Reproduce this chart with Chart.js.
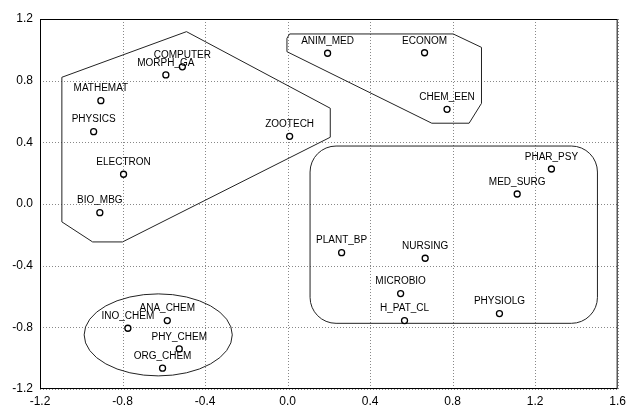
<!DOCTYPE html>
<html>
<head>
<meta charset="utf-8">
<script src="https://cdn.jsdelivr.net/npm/chart.js@4.4.0/dist/chart.umd.min.js"></script>
<style>
  body { margin: 0; background: #fff; }
  canvas { display: block; }
</style>
</head>
<body>
<canvas id="map-chart" width="631" height="410"></canvas>
<script>
// Point labels and coordinates
const pointLabels = ['COMPUTER', 'MORPH_GA', 'MATHEMAT', 'PHYSICS', 'ELECTRON', 'BIO_MBG', 'ZOOTECH',
    'ANIM_MED', 'ECONOM', 'CHEM_EEN',
    'PHAR_PSY', 'MED_SURG', 'PLANT_BP', 'NURSING', 'MICROBIO', 'H_PAT_CL', 'PHYSIOLG',
    'INO_CHEM', 'ANA_CHEM', 'PHY_CHEM', 'ORG_CHEM'];
const xValues = [-0.51, -0.59, -0.905, -0.94, -0.795, -0.91, 0.01,
    0.194, 0.664, 0.773,
    1.279, 1.113, 0.262, 0.667, 0.548, 0.567, 1.027,
    -0.774, -0.583, -0.525, -0.606];
const yValues = [0.89, 0.837, 0.67, 0.469, 0.193, -0.056, 0.439,
    0.978, 0.981, 0.614,
    0.227, 0.065, -0.316, -0.352, -0.581, -0.756, -0.711,
    -0.806, -0.756, -0.94, -1.065];

// Axis ticks
const tickStep = 0.4;

// Cluster outlines, in data units
const hullA = [[-1.094, 0.822], [-0.49, 1.118], [0.207, 0.621], [0.207, 0.433],
    [-0.80, -0.246], [-0.945, -0.246], [-1.094, -0.116]];
const hullB = [[0.010, 1.103], [0.803, 1.103], [0.940, 1.016], [0.940, 0.653],
    [0.880, 0.524], [0.699, 0.524], [-0.003, 0.988], [-0.003, 1.075]];
const boxC = [0.109, 0.376, 1.502, -0.774];       // left, top, right, bottom
const ellipseD = [-0.627, -0.849, 0.359, 0.266];  // cx, cy, rx, ry

const points = xValues.map((x, i) => ({ x: x, y: yValues[i] }));

const outlines = {
    id: 'outlines',
    beforeDatasetsDraw(chart) {
        const { ctx, chartArea, scales: { x, y } } = chart;
        ctx.save();
        // dotted grid at the scale ticks
        ctx.strokeStyle = '#888';
        ctx.lineWidth = 1;
        ctx.setLineDash([1, 2]);
        x.ticks.forEach(t => {
            const px = Math.round(x.getPixelForValue(t.value)) + 0.5;
            ctx.beginPath();
            ctx.moveTo(px, chartArea.top);
            ctx.lineTo(px, chartArea.bottom);
            ctx.stroke();
        });
        y.ticks.forEach(t => {
            const py = Math.round(y.getPixelForValue(t.value)) + 0.5;
            ctx.beginPath();
            ctx.moveTo(chartArea.left, py);
            ctx.lineTo(chartArea.right, py);
            ctx.stroke();
        });
        ctx.setLineDash([]);
        // cluster outlines
        ctx.strokeStyle = '#222';
        [hullA, hullB].forEach(hull => {
            ctx.beginPath();
            hull.forEach((p, i) => {
                const px = x.getPixelForValue(p[0]), py = y.getPixelForValue(p[1]);
                if (i === 0) ctx.moveTo(px, py); else ctx.lineTo(px, py);
            });
            ctx.closePath();
            ctx.stroke();
        });
        const l = x.getPixelForValue(boxC[0]), t = y.getPixelForValue(boxC[1]);
        const r = x.getPixelForValue(boxC[2]), b = y.getPixelForValue(boxC[3]);
        ctx.beginPath();
        ctx.roundRect(l, t, r - l, b - t, 26);
        ctx.stroke();
        const cx = x.getPixelForValue(ellipseD[0]), cy = y.getPixelForValue(ellipseD[1]);
        const rx = x.getPixelForValue(ellipseD[0] + ellipseD[2]) - cx;
        const ry = cy - y.getPixelForValue(ellipseD[1] + ellipseD[3]);
        ctx.beginPath();
        ctx.ellipse(cx, cy, rx, ry, 0, 0, Math.PI * 2);
        ctx.stroke();
        ctx.restore();
    },
    afterDatasetsDraw(chart) {
        const { ctx, chartArea } = chart;
        ctx.save();
        // frame
        ctx.strokeStyle = '#000';
        ctx.lineWidth = 1;
        ctx.strokeRect(chartArea.left + 0.5, chartArea.top + 0.5,
            chartArea.right - chartArea.left - 1, chartArea.bottom - chartArea.top - 1);
        // labels
        ctx.fillStyle = '#000';
        ctx.font = '10px "Liberation Sans", Arial, sans-serif';
        ctx.textAlign = 'center';
        ctx.textBaseline = 'middle';
        chart.getDatasetMeta(0).data.forEach((el, i) => {
            ctx.fillText(pointLabels[i], el.x, el.y - 12);
        });
        ctx.restore();
    }
};

document.addEventListener('DOMContentLoaded', function() {
    const ctx = document.getElementById('map-chart').getContext('2d');
    new Chart(ctx, {
        type: 'scatter',
        data: {
            datasets: [{
                data: points,
                pointRadius: 3,
                pointBorderWidth: 1.3,
                pointBorderColor: '#000',
                pointBackgroundColor: '#fff'
            }]
        },
        options: {
            responsive: false,
            animation: false,
            layout: { padding: { top: 19, right: 10, left: 0, bottom: 0 } },
            plugins: { legend: { display: false }, tooltip: { enabled: false } },
            scales: {
                x: {
                    type: 'linear',
                    min: -1.2,
                    max: 1.6,
                    afterFit: scale => { scale.height = 21; },
                    grid: { display: false, drawTicks: false },
                    border: { display: false },
                    ticks: {
                        stepSize: tickStep,
                        padding: 5,
                        color: '#000',
                        font: { family: '"Liberation Sans", Arial, sans-serif', size: 12 },
                        callback: v => v.toFixed(1)
                    }
                },
                y: {
                    type: 'linear',
                    min: -1.2,
                    max: 1.2,
                    afterFit: scale => { scale.width = 40; },
                    grid: { display: false, drawTicks: false },
                    border: { display: false },
                    ticks: {
                        stepSize: tickStep,
                        padding: 7,
                        color: '#000',
                        font: { family: '"Liberation Sans", Arial, sans-serif', size: 12 },
                        callback: v => v.toFixed(1)
                    }
                }
            }
        },
        plugins: [outlines]
    });
});
</script>
</body>
</html>
